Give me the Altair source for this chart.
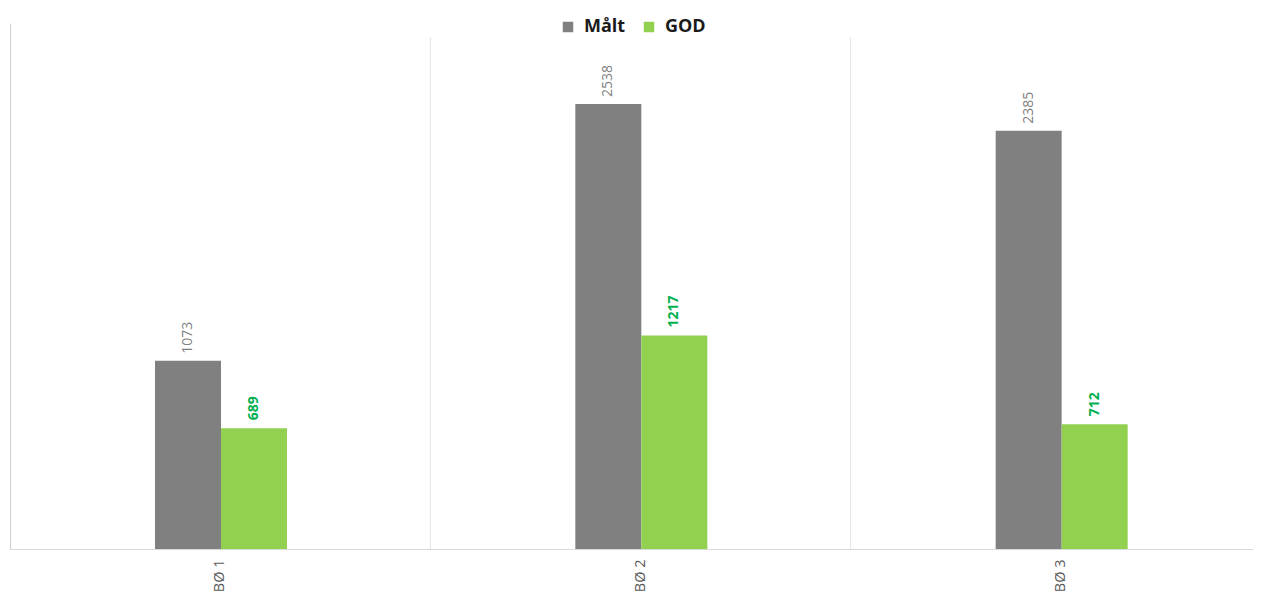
import altair as alt
import pandas as pd

categories = ["BØ 1", "BØ 2", "BØ 3"]
series = ["Målt", "GOD"]
maalt = [1073, 2538, 2385]
god = [689, 1217, 712]

rows = []
for c, m, g in zip(categories, maalt, god):
    rows.append({"cat": c, "serie": "Målt", "value": m})
    rows.append({"cat": c, "serie": "GOD", "value": g})
df = pd.DataFrame(rows)
bounds = pd.DataFrame({"cat": categories[1:]})

FONT = "Open Sans"

xscale = alt.Scale(domain=categories, paddingInner=0, paddingOuter=0, range=[0, 1261])
xaxis = alt.Axis(labelAngle=-90, labelAlign="right", labelBaseline="middle",
                 labelFont=FONT, labelFontSize=14.5, labelColor="#595959",
                 labelPadding=10, ticks=False, domain=True, domainColor="#d9d9d9",
                 grid=False)
x = alt.X("cat:N", sort=categories, title=None, scale=xscale, axis=xaxis)
xo = alt.XOffset("serie:N", sort=series,
                 scale=alt.Scale(paddingInner=0, paddingOuter=0, range=[145, 277]))
y = alt.Y("value:Q", title=None,
          scale=alt.Scale(domain=[0, 3000], nice=False),
          axis=alt.Axis(labels=False, ticks=False, grid=False, domain=True,
                        domainColor="#cfcfcf"))

color = alt.Color("serie:N", sort=series,
                  scale=alt.Scale(domain=series, range=["#808080", "#92d050"]),
                  legend=alt.Legend(title=None, orient="none", legendX=549, legendY=-5,
                                    direction="horizontal", symbolType="square",
                                    symbolSize=110, symbolStrokeWidth=0,
                                    labelFont=FONT, labelFontSize=18, labelFontWeight="bold",
                                    labelColor="#1a1a1a", columnPadding=14, labelOffset=7))

bars = alt.Chart(df).mark_bar(size=66).encode(x=x, xOffset=xo, y=y, color=color)

grid = alt.Chart(bounds).mark_rule(color="#e3e3e3", strokeWidth=1).encode(
    x=alt.X("cat:N", sort=categories, title=None, scale=xscale, axis=xaxis, bandPosition=0),
    y=alt.value(14), y2=alt.value(526))

text_m = alt.Chart(df).transform_filter(alt.datum.serie == "Målt").mark_text(
    angle=270, align="left", baseline="middle", dx=7, font=FONT, fontSize=14,
    color="#7f7f7f").encode(x=x, xOffset=xo, y=y, text="value:Q")
text_g = alt.Chart(df).transform_filter(alt.datum.serie == "GOD").mark_text(
    angle=270, align="left", baseline="middle", dx=8, font=FONT, fontSize=14,
    fontWeight="bold", color="#00b050").encode(x=x, xOffset=xo, y=y, text="value:Q")

chart = alt.layer(bars, grid, text_m, text_g).properties(
    width=1243, height=526,
    autosize=alt.AutoSizeParams(type="none"),
    padding={"left": 2, "top": 15, "right": 0, "bottom": 48},
).configure_view(stroke=None)

chart.save("out.html", embed_options={"renderer": "svg", "actions": False})
